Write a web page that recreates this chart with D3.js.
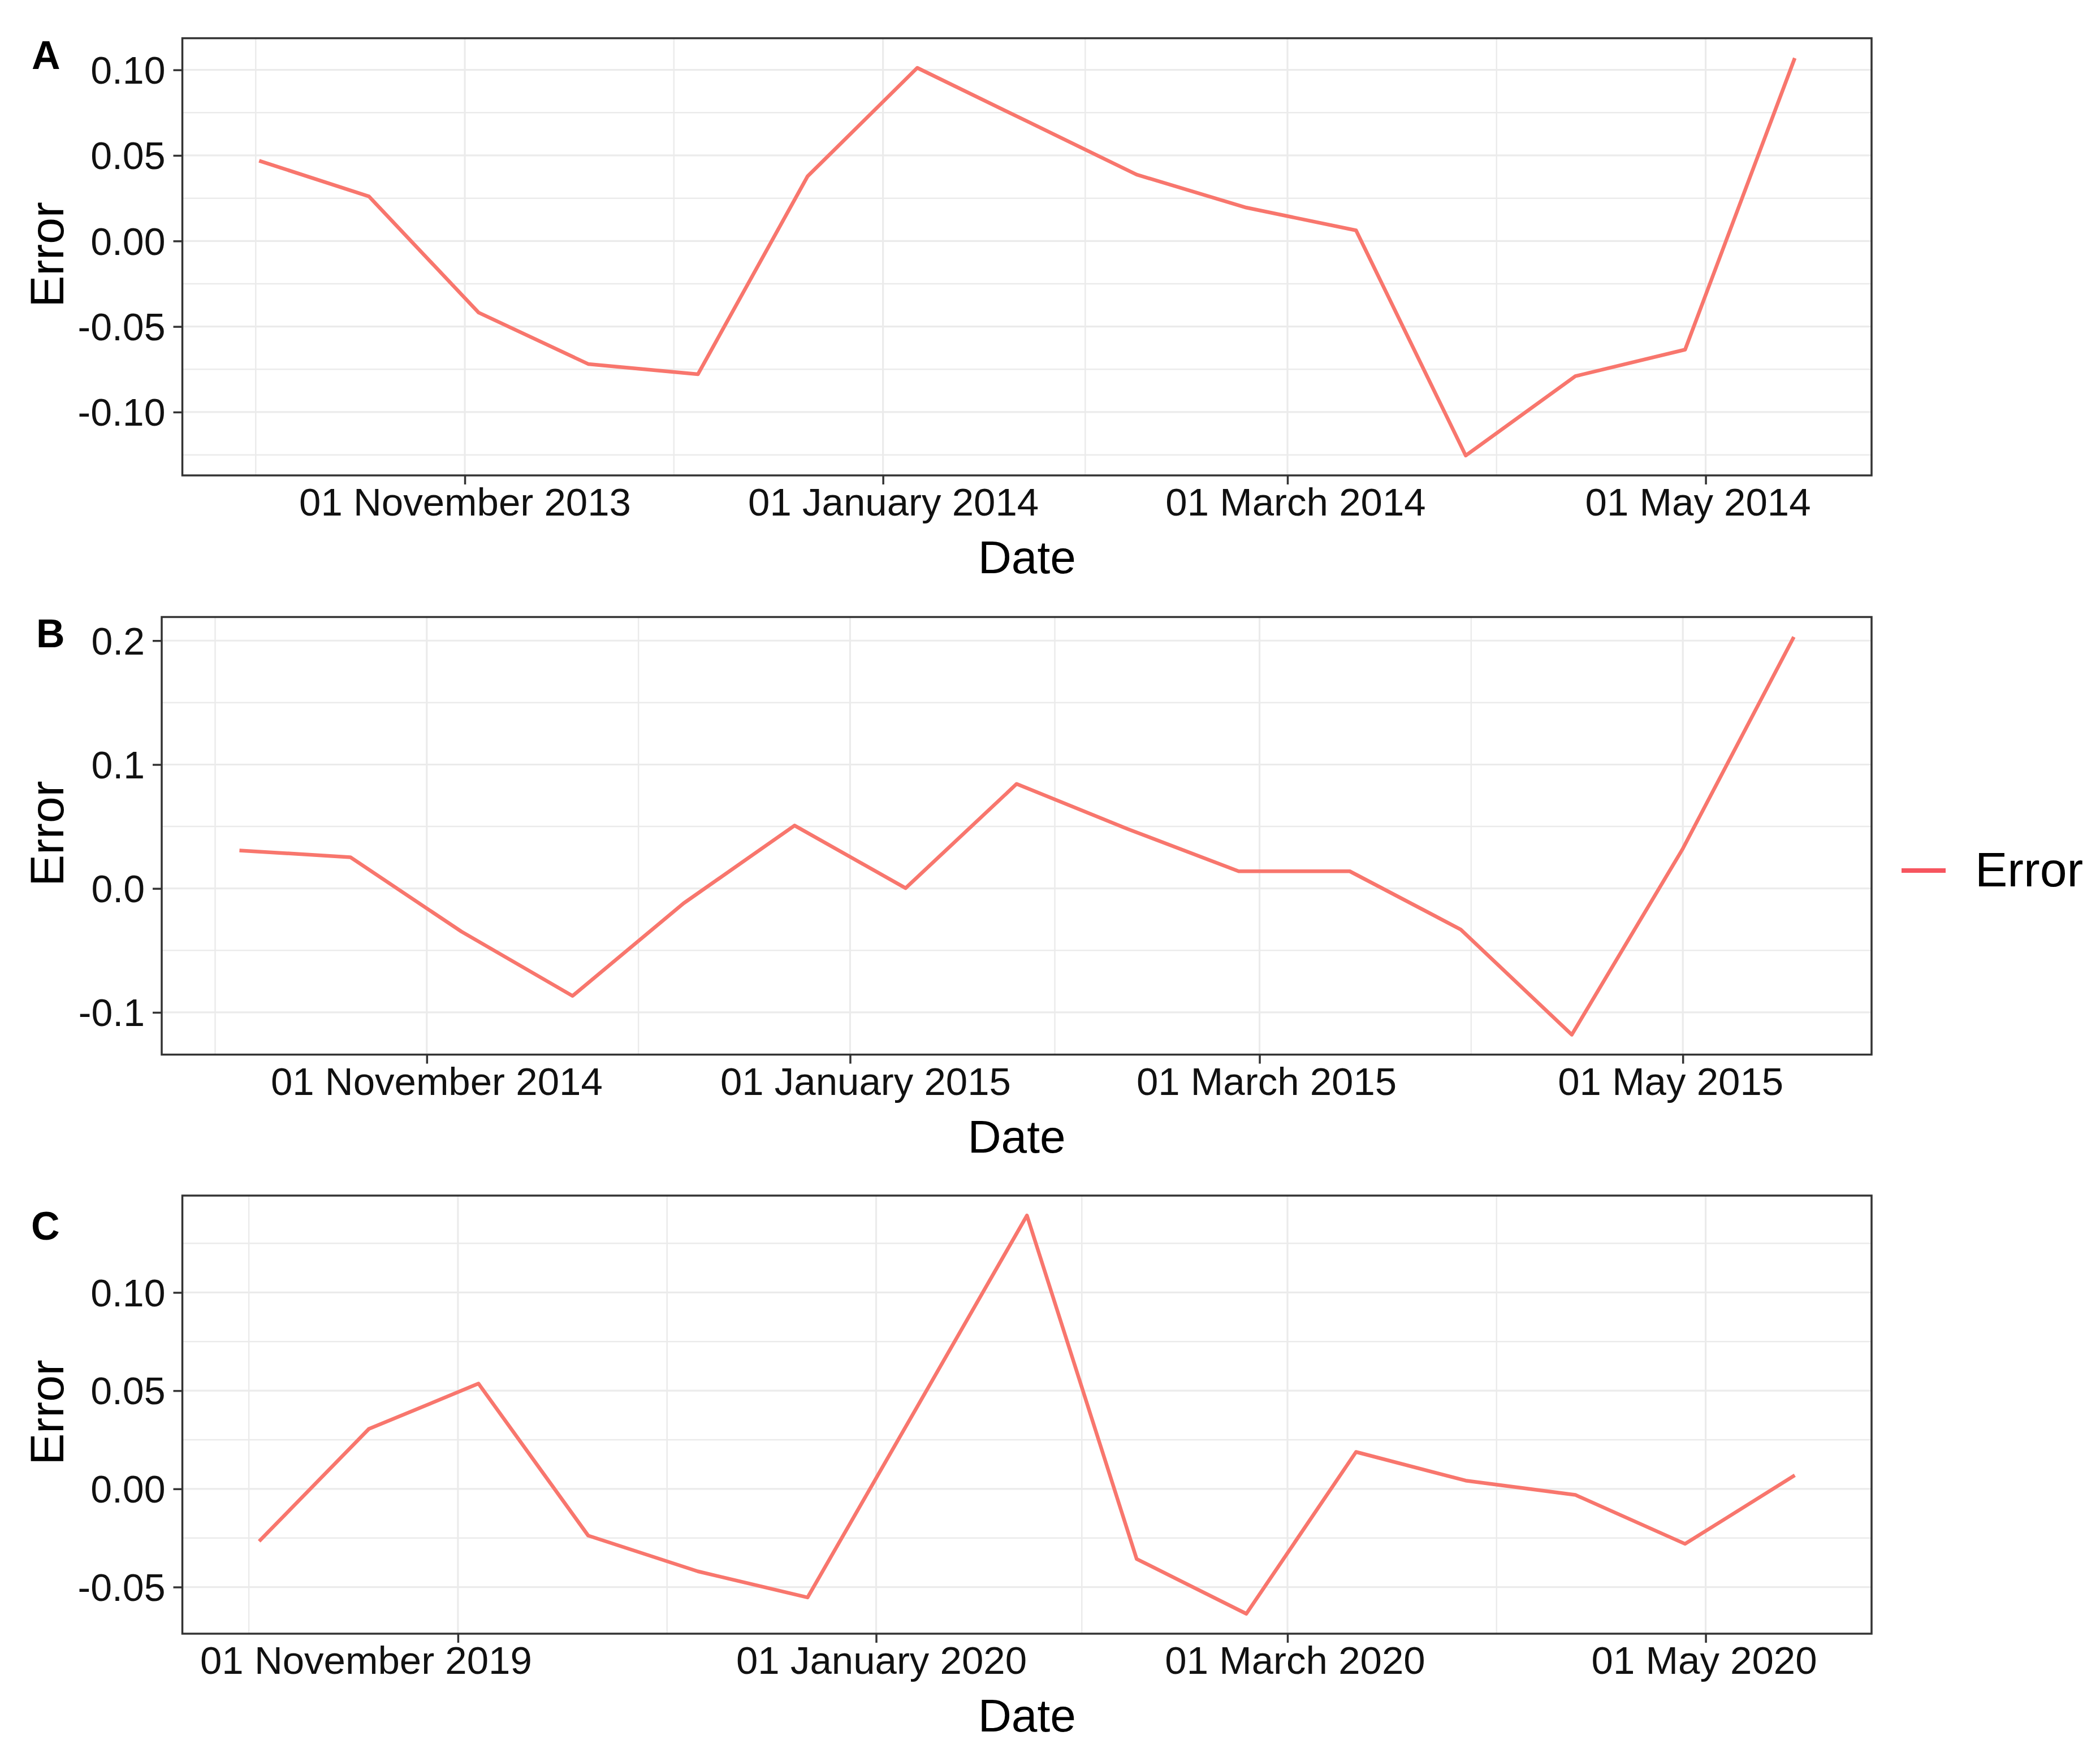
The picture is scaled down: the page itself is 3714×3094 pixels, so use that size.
<!DOCTYPE html>
<html>
<head>
<meta charset="utf-8">
<script src="https://cdn.jsdelivr.net/npm/d3@7"></script>
<style>
html, body { margin: 0; padding: 0; background: #ffffff; }
svg { display: block; }
</style>
</head>
<body>
<svg id="chart" width="3714" height="3094"></svg>
<script>
// ---------------- DATA ----------------
const datesA = ["2013-10-02","2013-10-18","2013-11-03","2013-11-19","2013-12-05","2013-12-21",
                "2014-01-06","2014-01-22","2014-02-07","2014-02-23","2014-03-11","2014-03-27",
                "2014-04-12","2014-04-28","2014-05-14"];
const errorA = [0.0469, 0.0261, -0.0418, -0.0719, -0.0779, 0.0378,
                0.1012, 0.0700, 0.0388, 0.0195, 0.0062, -0.1254,
                -0.0790, -0.0635, 0.1069];

const datesB = ["2014-10-05","2014-10-21","2014-11-06","2014-11-22","2014-12-08","2014-12-24",
                "2015-01-09","2015-01-25","2015-02-10","2015-02-26","2015-03-14","2015-03-30",
                "2015-04-15","2015-05-01","2015-05-17"];
const errorB = [0.0307, 0.0252, -0.0348, -0.0867, -0.0120, 0.0508,
                0.0003, 0.0844, 0.0480, 0.0139, 0.0139, -0.0331,
                -0.1180, 0.0321, 0.2030];

const datesC = ["2019-10-03","2019-10-19","2019-11-04","2019-11-20","2019-12-06","2019-12-22",
                "2020-01-07","2020-01-23","2020-02-08","2020-02-24","2020-03-11","2020-03-27",
                "2020-04-12","2020-04-28","2020-05-14"];
const errorC = [-0.0267, 0.0305, 0.0536, -0.0238, -0.0420, -0.0553,
                0.0419, 0.1392, -0.0357, -0.0636, 0.0188, 0.0042,
                -0.0031, -0.0280, 0.0069];

const yTicksA = [-0.10, -0.05, 0.00, 0.05, 0.10];
const yLabelsA = ["-0.10", "-0.05", "0.00", "0.05", "0.10"];
const yTicksB = [-0.1, 0.0, 0.1, 0.2];
const yLabelsB = ["-0.1", "0.0", "0.1", "0.2"];
const yTicksC = [-0.05, 0.00, 0.05, 0.10];
const yLabelsC = ["-0.05", "0.00", "0.05", "0.10"];

const xTicksA = ["2013-11-01", "2014-01-01", "2014-03-01", "2014-05-01"];
const xLabelsA = ["01 November 2013", "01 January 2014", "01 March 2014", "01 May 2014"];
const xTicksB = ["2014-11-01", "2015-01-01", "2015-03-01", "2015-05-01"];
const xLabelsB = ["01 November 2014", "01 January 2015", "01 March 2015", "01 May 2015"];
const xTicksC = ["2019-11-01", "2020-01-01", "2020-03-01", "2020-05-01"];
const xLabelsC = ["01 November 2019", "01 January 2020", "01 March 2020", "01 May 2020"];

const panelLabels = ["A", "B", "C"];
const seriesName = "Error";
const xTitle = "Date";
const yTitle = "Error";

// ---------------- STYLE / LAYOUT ----------------
const FONT = "'Liberation Sans', Arial, Helvetica, sans-serif";
const LINE_COLOR = "#F8766D";
const LEGEND_COLOR = "#F6555F";
const GRID = "#EBEBEB";
const BORDER = "#333333";

const parse = d3.timeParse("%Y-%m-%d");
const svg = d3.select("#chart");
svg.append("rect").attr("width", 3714).attr("height", 3094).attr("fill", "#ffffff");

// label nudges (px) as placed in the original figure
const panels = [
  { label: panelLabels[0], dates: datesA, values: errorA, yTicks: yTicksA, yLabels: yLabelsA,
    xTicks: xTicksA, xLabels: xLabelsA, box: { l: 322.5, r: 3310, t: 67.6, b: 841 },
    labelPos: { x: 56, y: 122 }, xNudge: [0, 18, 14, -14] },
  { label: panelLabels[1], dates: datesB, values: errorB, yTicks: yTicksB, yLabels: yLabelsB,
    xTicks: xTicksB, xLabels: xLabelsB, box: { l: 286, r: 3310, t: 1091.5, b: 1865.6 },
    labelPos: { x: 64, y: 1145 }, xNudge: [17, 27, 12, -22] },
  { label: panelLabels[2], dates: datesC, values: errorC, yTicks: yTicksC, yLabels: yLabelsC,
    xTicks: xTicksC, xLabels: xLabelsC, box: { l: 322.5, r: 3310, t: 2115, b: 2890 },
    labelPos: { x: 55, y: 2193 }, xNudge: [-163, 9, 13, -3] }
];

function drawPanel(cfg) {
  const { l, r, t, b } = cfg.box;
  const dates = cfg.dates.map(parse);
  const data = dates.map((d, i) => ({ date: d, v: cfg.values[i] }));

  const [x0, x1] = d3.extent(dates);
  const span = +x1 - +x0;
  const x = d3.scaleTime()
    .domain([new Date(+x0 - 0.05 * span), new Date(+x1 + 0.05 * span)])
    .range([l, r]);

  const [y0, y1] = d3.extent(cfg.values);
  const ys = y1 - y0;
  const y = d3.scaleLinear()
    .domain([y0 - 0.05 * ys, y1 + 0.05 * ys])
    .range([b, t]);

  const g = svg.append("g");

  // minor grid (midpoints between breaks)
  const step = cfg.yTicks[1] - cfg.yTicks[0];
  const yMinor = [cfg.yTicks[0] - step / 2].concat(cfg.yTicks.map(v => v + step / 2))
    .filter(v => v > y.domain()[0] && v < y.domain()[1]);
  const xMajor = cfg.xTicks.map(parse);
  const xExt = [d3.timeMonth.offset(xMajor[0], -2)].concat(xMajor, [d3.timeMonth.offset(xMajor[xMajor.length - 1], 2)]);
  const xMinor = [];
  for (let i = 0; i < xExt.length - 1; i++) {
    const m = new Date((+xExt[i] + +xExt[i + 1]) / 2);
    if (m > x.domain()[0] && m < x.domain()[1]) xMinor.push(m);
  }

  g.append("g").selectAll("line").data(yMinor).join("line")
    .attr("x1", l).attr("x2", r).attr("y1", d => y(d)).attr("y2", d => y(d))
    .attr("stroke", GRID).attr("stroke-width", 2.5);
  g.append("g").selectAll("line").data(xMinor).join("line")
    .attr("y1", t).attr("y2", b).attr("x1", d => x(d)).attr("x2", d => x(d))
    .attr("stroke", GRID).attr("stroke-width", 2.5);
  g.append("g").selectAll("line").data(cfg.yTicks).join("line")
    .attr("x1", l).attr("x2", r).attr("y1", d => y(d)).attr("y2", d => y(d))
    .attr("stroke", GRID).attr("stroke-width", 3.2);
  g.append("g").selectAll("line").data(xMajor).join("line")
    .attr("y1", t).attr("y2", b).attr("x1", d => x(d)).attr("x2", d => x(d))
    .attr("stroke", GRID).attr("stroke-width", 3.2);

  // data line
  const line = d3.line().x(d => x(d.date)).y(d => y(d.v));
  g.append("path").datum(data)
    .attr("d", line)
    .attr("fill", "none")
    .attr("stroke", LINE_COLOR)
    .attr("stroke-width", 6.5)
    .attr("stroke-linejoin", "round")
    .attr("stroke-linecap", "butt");

  // border
  g.append("rect").attr("x", l).attr("y", t).attr("width", r - l).attr("height", b - t)
    .attr("fill", "none").attr("stroke", BORDER).attr("stroke-width", 3.5);

  // y axis
  const yAxis = d3.axisLeft(y).tickValues(cfg.yTicks)
    .tickFormat((d, i) => cfg.yLabels[i]).tickSize(16).tickPadding(14);
  const ya = g.append("g").attr("transform", `translate(${l},0)`).call(yAxis);
  ya.select(".domain").remove();
  ya.selectAll(".tick line").attr("stroke", BORDER).attr("stroke-width", 3.5);
  ya.selectAll(".tick text").attr("fill", "#111").attr("font-family", FONT)
    .attr("font-size", 68).attr("dy", "0.35em");

  // x axis
  const xAxis = d3.axisBottom(x).tickValues(xMajor)
    .tickFormat((d, i) => cfg.xLabels[i]).tickSize(16);
  const xa = g.append("g").attr("transform", `translate(0,${b})`).call(xAxis);
  xa.select(".domain").remove();
  xa.selectAll(".tick line").attr("stroke", BORDER).attr("stroke-width", 3.5);
  xa.selectAll(".tick text").attr("fill", "#111").attr("font-family", FONT)
    .attr("font-size", 69).attr("y", 71).attr("dy", 0)
    .attr("x", (d, i) => cfg.xNudge[i]);

  // axis titles
  g.append("text").attr("x", (l + r) / 2).attr("y", b + 173)
    .attr("text-anchor", "middle").attr("font-family", FONT).attr("font-size", 82)
    .attr("fill", "#000").text(xTitle);
  g.append("text")
    .attr("transform", `translate(112,${(t + b) / 2 - 4}) rotate(-90)`)
    .attr("text-anchor", "middle").attr("font-family", FONT).attr("font-size", 84)
    .attr("fill", "#000").text(yTitle);

  // panel label
  g.append("text").attr("x", cfg.labelPos.x).attr("y", cfg.labelPos.y)
    .attr("font-family", FONT).attr("font-weight", "bold").attr("font-size", 70)
    .attr("fill", "#000").text(cfg.label);
}

panels.forEach(drawPanel);

// legend
const lg = svg.append("g");
lg.append("line").attr("x1", 3363).attr("x2", 3441).attr("y1", 1540).attr("y2", 1540)
  .attr("stroke", LEGEND_COLOR).attr("stroke-width", 8);
lg.append("text").attr("x", 3493).attr("y", 1568)
  .attr("font-family", FONT).attr("font-size", 86).attr("fill", "#000").text(seriesName);
</script>
</body>
</html>
